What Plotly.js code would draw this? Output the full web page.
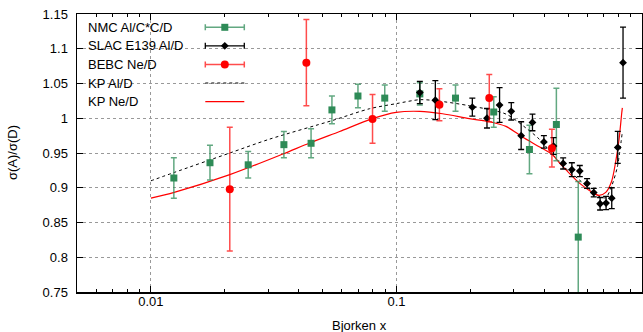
<!DOCTYPE html>
<html>
<head>
<meta charset="utf-8">
<script src="https://cdn.plot.ly/plotly-3.0.1.min.js"></script>
<style>html,body{margin:0;padding:0;background:#fff}#chart{width:643px;height:332px}</style>
</head>
<body>
<div id="chart"></div>
<script>
// ---- data ----
const nmcX = [0.0124, 0.0174, 0.0249, 0.0348, 0.0449, 0.0546, 0.0697, 0.0896, 0.1245, 0.174, 0.249, 0.348, 0.448, 0.550];
const nmcY = [0.914, 0.936, 0.933, 0.962, 0.964, 1.012, 1.032, 1.029, 1.035, 1.029, 1.009, 0.955, 0.991, 0.829];
const nmcErr = [0.029, 0.025, 0.019, 0.019, 0.021, 0.020, 0.017, 0.019, 0.016, 0.019, 0.022, 0.035, 0.052, 0.080];

const slacX = [0.1245, 0.144, 0.2037, 0.2337, 0.263, 0.2935, 0.322, 0.358, 0.3985, 0.436, 0.4775, 0.518, 0.558, 0.5975, 0.636, 0.675, 0.714, 0.753, 0.7965, 0.837];
const slacY = [1.037, 1.026, 1.016, 1.000, 1.019, 1.010, 0.975, 0.994, 0.966, 0.960, 0.935, 0.926, 0.924, 0.906, 0.893, 0.877, 0.878, 0.885, 0.958, 1.080];
const slacErr = [0.016, 0.028, 0.013, 0.014, 0.025, 0.0125, 0.020, 0.012, 0.009, 0.012, 0.008, 0.010, 0.008, 0.007, 0.006, 0.009, 0.0095, 0.015, 0.023, 0.051];

const bebcX = [0.02095, 0.04296, 0.0799, 0.1496, 0.2388, 0.4296];
const bebcY = [0.898, 1.080, 0.999, 1.0195, 1.029, 0.957];
const bebcErr = [0.089, 0.062, 0.035, 0.023, 0.034, 0.027];

const kpAlX = [0.01, 0.01244, 0.02095, 0.03046, 0.0551, 0.0777, 0.0997, 0.1245, 0.145, 0.198, 0.2793, 0.3367, 0.3814, 0.4743, 0.5546, 0.628, 0.6686, 0.7118, 0.7517, 0.7935, 0.8318];
const kpAlY = [0.910, 0.922, 0.950, 0.970, 0.997, 1.0137, 1.021, 1.0267, 1.0252, 1.018, 1.006, 0.986, 0.970, 0.932, 0.9116, 0.8943, 0.8876, 0.8857, 0.902, 0.930, 0.981];

const kpNeX = [0.01, 0.01244, 0.02095, 0.0345, 0.0443, 0.0587, 0.0799, 0.0997, 0.1245, 0.1542, 0.198, 0.2388, 0.2793, 0.326, 0.3814, 0.4296, 0.4743, 0.5546, 0.628, 0.6686, 0.7118, 0.7517, 0.7817, 0.806, 0.827, 0.8318];
const kpNeY = [0.885, 0.8933, 0.9188, 0.9486, 0.9644, 0.981, 0.9994, 1.0084, 1.0099, 1.0065, 0.9994, 0.995, 0.9883, 0.973, 0.959, 0.948, 0.931, 0.907, 0.8933, 0.889, 0.8933, 0.909, 0.938, 0.969, 1.0075, 1.015];

const legendLabels = ["NMC Al/C*C/D", "SLAC E139 Al/D", "BEBC Ne/D", "KP Al/D", "KP Ne/D"];
const yTicks = [0.75, 0.8, 0.85, 0.9, 0.95, 1, 1.05, 1.1, 1.15];
const xTicks = [0.01, 0.1, 1];
const xTickText = ["0.01", "0.1", "1"];

// ---- styles ----
const GREEN = "#2e8b57";
const GREEN_ERR = "rgba(46,139,87,0.75)";
const RED = "#ff0000";
const RED_ERR = "rgba(255,0,0,0.7)";
const FONT = "Liberation Sans, Arial, sans-serif";

const minorVals = [];
[0.001, 0.01, 0.1].forEach(d => { for (let k = 2; k <= 9; k++) minorVals.push(+(k * d).toFixed(4)); });

const traces = [
  {x: kpAlX, y: kpAlY, mode: "lines", line: {color: "#000", width: 1, dash: "3px,3px", shape: "spline", smoothing: 0.8}, showlegend: false, hoverinfo: "skip"},
  {x: kpNeX, y: kpNeY, mode: "lines", line: {color: RED, width: 1.2, shape: "spline", smoothing: 0.8}, showlegend: false, hoverinfo: "skip"},
  {x: nmcX, y: nmcY, mode: "markers", marker: {symbol: "square", size: 7, color: GREEN},
   error_y: {type: "data", array: nmcErr, visible: true, color: GREEN_ERR, thickness: 1.5, width: 3}, showlegend: false},
  {x: slacX, y: slacY, mode: "markers", marker: {symbol: "diamond", size: 6, color: "#000"},
   error_y: {type: "data", array: slacErr, visible: true, color: "#000", thickness: 1.3, width: 3}, showlegend: false},
  {x: bebcX, y: bebcY, mode: "markers", marker: {symbol: "circle", size: 8, color: RED},
   error_y: {type: "data", array: bebcErr, visible: true, color: RED_ERR, thickness: 1.5, width: 3}, showlegend: false}
];

// legend samples drawn on a pixel-space overlay axis
const rowY = [27.3, 45.8, 64.4, 83.0, 101.7];
const sx0 = 205.3, sx1 = 244.3, sxc = 224.8;
traces.push(
  {x: [sxc], y: [rowY[0]], xaxis: "x2", yaxis: "y2", mode: "markers", marker: {symbol: "square", size: 7, color: GREEN},
   error_x: {type: "constant", value: sxc - sx0, visible: true, color: GREEN_ERR, thickness: 1.5, width: 3}, showlegend: false, hoverinfo: "skip"},
  {x: [sxc], y: [rowY[1]], xaxis: "x2", yaxis: "y2", mode: "markers", marker: {symbol: "diamond", size: 6, color: "#000"},
   error_x: {type: "constant", value: sxc - sx0, visible: true, color: "#000", thickness: 1.3, width: 3}, showlegend: false, hoverinfo: "skip"},
  {x: [sxc], y: [rowY[2]], xaxis: "x2", yaxis: "y2", mode: "markers", marker: {symbol: "circle", size: 8, color: RED},
   error_x: {type: "constant", value: sxc - sx0, visible: true, color: RED_ERR, thickness: 1.5, width: 3}, showlegend: false, hoverinfo: "skip"},
  {x: [sx0, sx1], y: [rowY[3], rowY[3]], xaxis: "x2", yaxis: "y2", mode: "lines", line: {color: "#000", width: 1, dash: "3px,3px"}, showlegend: false, hoverinfo: "skip"},
  {x: [sx0, sx1], y: [rowY[4], rowY[4]], xaxis: "x2", yaxis: "y2", mode: "lines", line: {color: RED, width: 1.2}, showlegend: false, hoverinfo: "skip"}
);

const annotations = legendLabels.map((t, i) => ({
  text: t, xref: "x2", yref: "y2", x: 86, y: rowY[i], xanchor: "left", yanchor: "middle",
  showarrow: false, font: {family: FONT, size: 13, color: "#000"}
}));
annotations.push(
  {text: "Bjorken x", xref: "paper", yref: "paper", x: 0.5, y: (292 - 325) / 278, xanchor: "center", yanchor: "middle",
   showarrow: false, font: {family: FONT, size: 13, color: "#000"}},
  {text: "σ(A)/σ(D)", xref: "paper", yref: "paper", x: (12 - 77) / 565, y: 0.5, xanchor: "center", yanchor: "middle",
   textangle: -90, showarrow: false, font: {family: FONT, size: 13, color: "#000"}}
);

const layout = {
  width: 643, height: 332,
  margin: {l: 77, r: 1, t: 14, b: 40},
  paper_bgcolor: "#fff", plot_bgcolor: "#fff",
  font: {family: FONT, size: 13, color: "#000"},
  showlegend: false,
  xaxis: {
    type: "log", range: [Math.log10(0.005), 0],
    tickvals: xTicks, ticktext: xTickText,
    ticks: "inside", ticklen: 6, tickcolor: "#000", tickwidth: 1,
    showline: true, linecolor: "#000", linewidth: 1.5, mirror: "ticks",
    showgrid: true, gridcolor: "#999", griddash: "dot", gridwidth: 1,
    zeroline: false, ticklabelstandoff: -3,
    minor: {tickvals: minorVals, ticks: "inside", ticklen: 3, tickcolor: "#000", showgrid: false}
  },
  yaxis: {
    range: [0.75, 1.15], tickvals: yTicks,
    ticks: "inside", ticklen: 6, tickcolor: "#000", tickwidth: 1,
    showline: true, linecolor: "#000", linewidth: 1.5, mirror: "ticks",
    showgrid: true, gridcolor: "#999", griddash: "dot", gridwidth: 1,
    zeroline: false, ticklabelstandoff: 5
  },
  xaxis2: {overlaying: "x", anchor: "y2", range: [77, 642], visible: false, fixedrange: true},
  yaxis2: {overlaying: "y", anchor: "x2", range: [292, 14], visible: false, fixedrange: true},
  shapes: [
    {type: "rect", xref: "paper", yref: "y", x0: 0, x1: (252 - 77) / 565, y0: 1.15 - (111 - 14.3) / 695, y1: 1.15,
     fillcolor: "#fff", line: {width: 0}, layer: "between"}
  ],
  annotations: annotations
};

Plotly.newPlot("chart", traces, layout, {staticPlot: true, displayModeBar: false});
</script>
</body>
</html>
